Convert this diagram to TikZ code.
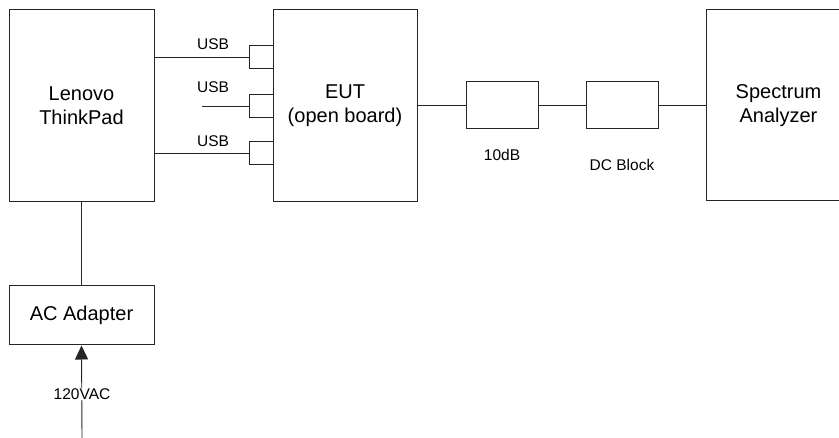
\documentclass[tikz,border=0pt]{standalone}
\usepackage{fontspec}
\setmainfont{Liberation Sans}
\usetikzlibrary{arrows.meta}
\begin{document}
\begin{tikzpicture}[x=1pt,y=-1pt,
  box/.style={draw=black!85,line width=1pt,rectangle,inner sep=0pt,align=center,font=\fontsize{20}{24}\selectfont},
  port/.style={draw=black!85,line width=1pt,rectangle,inner sep=0pt,minimum width=24pt,minimum height=23pt},
  lbl/.style={inner sep=1pt,font=\fontsize{15.5}{18}\selectfont},
  wire/.style={draw=black!85,line width=0.9pt}]
\useasboundingbox (0,0) rectangle (839,438);
\node[box,minimum width=145pt,minimum height=192pt] (lenovo) at (81.5,106) {Lenovo\\ThinkPad};
\node[box,minimum width=144pt,minimum height=192pt] (eut) at (345,106) {EUT\\(open board)};
\node[port] (p1) at (261,57.5) {};
\node[port] (p2) at (261,106) {};
\node[port] (p3) at (261,153.5) {};
\node[box,minimum width=72pt,minimum height=47pt] (att) at (502,105.5) {};
\node[box,minimum width=72pt,minimum height=47pt] (dcb) at (622,105.5) {};
\node[box,minimum width=145pt,minimum height=191pt] (sa) at (778.5,105.5) {Spectrum\\Analyzer};
\node[box,minimum width=145pt,minimum height=59pt] (ac) at (81.5,315.5) {AC Adapter};
\coordinate (p2s) at (202,106);
\coordinate (src) at (82,438);
\node[lbl] at (213,44.5) {USB};
\node[lbl] at (213,87.5) {USB};
\node[lbl] at (213,141) {USB};
\node[lbl] at (502,155) {10dB};
\node[lbl] at (622,165) {DC Block};
\draw[wire,line width=1.8pt] (lenovo.east |- p1.west) -- (p1.west);
\draw[wire] (p2s) -- (p2.west);
\draw[wire] (lenovo.east |- p3.west) -- (p3.west);
\draw[wire] (eut.east |- att.west) -- (att.west);
\draw[wire] (att.east) -- (dcb.west);
\draw[wire] (dcb.east) -- (sa.west |- dcb.east);
\draw[wire] (lenovo.south -| ac.north) -- (ac.north);
\draw[wire,-{Triangle[length=14pt,width=13pt]}] (src) -- (ac.south);
\node[lbl,fill=white] (v) at (82,394) {120VAC};
\end{tikzpicture}
\end{document}
